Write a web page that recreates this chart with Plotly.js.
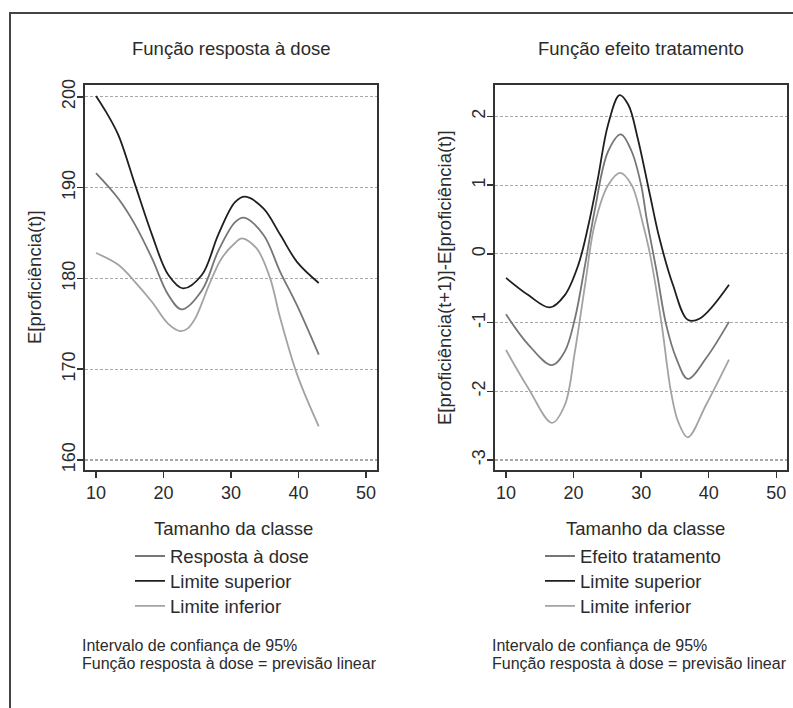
<!DOCTYPE html>
<html>
<head>
<meta charset="utf-8">
<script src="https://cdn.plot.ly/plotly-3.0.1.min.js"></script>
<style>
  html, body { margin: 0; padding: 0; background: #fff; }
  #wrap { position: relative; width: 793px; height: 708px; overflow: hidden; }
  #chart { position: absolute; left: 0; top: 0; width: 793px; height: 708px; }
  #frame { position: absolute; left: 9px; top: 12px; width: 800px; height: 710px;
           border-left: 2px solid #444; border-top: 2px solid #444; pointer-events: none; }
</style>
</head>
<body>
<div id="wrap">
  <div id="chart"></div>
  <div id="frame"></div>
</div>
<script>
// Dose-response function, class size 10..43
const doseMidX = [10, 13.3, 15.8, 18.3, 20.7, 22.7, 25.7, 28.1, 30.6, 31.9, 34.8, 37.3, 39.8, 43];
const doseMidY = [191.6, 188.8, 185.9, 182.2, 178.2, 176.6, 178.7, 183.0, 186.2, 186.7, 184.8, 180.7, 177.0, 171.6];
const doseUpX = [10, 11.6, 13.3, 15.8, 18.3, 20.7, 22.9, 25.7, 28.1, 30.6, 32.1, 34.8, 37.3, 39.8, 43];
const doseUpY = [200.1, 198.2, 195.8, 190.3, 184.8, 180.4, 178.9, 180.4, 184.8, 188.4, 189.0, 187.7, 184.8, 181.8, 179.5];
const doseLoX = [10, 13.3, 15.8, 18.3, 20.7, 22.5, 23.6, 24.7, 25.7, 26.7, 28.6, 30.6, 31.6, 33.8, 35.8, 37.3, 39.8, 43];
const doseLoY = [182.8, 181.5, 179.6, 177.4, 175.0, 174.2, 174.5, 175.6, 177.3, 179.2, 182.2, 183.9, 184.4, 183.3, 180.0, 175.6, 169.4, 163.7];

// Treatment-effect function
const effMidX = [10, 13.3, 16.8, 18.7, 20.2, 21.7, 23.1, 25.1, 27.0, 28.6, 30.0, 30.8, 32.3, 33.7, 35.2, 36.9, 39.6, 43];
const effMidY = [-0.88, -1.32, -1.62, -1.42, -0.94, -0.16, 0.62, 1.49, 1.74, 1.49, 1.0, 0.52, -0.26, -1.03, -1.52, -1.82, -1.52, -0.99];
const effUpX = [10, 13.3, 16.5, 18.7, 20.7, 22.2, 23.6, 25.1, 26.8, 28.1, 29.5, 31.3, 32.7, 34.7, 36.9, 38.7, 43];
const effUpY = [-0.35, -0.60, -0.78, -0.60, -0.16, 0.42, 1.10, 1.88, 2.31, 2.17, 1.68, 0.86, 0.23, -0.45, -0.96, -0.94, -0.45];
const effLoX = [10, 13.3, 16.8, 18.7, 20.2, 21.7, 23.1, 25.1, 26.9, 28.6, 30.3, 31.3, 33.0, 34.4, 35.5, 36.9, 39.6, 43];
const effLoY = [-1.40, -1.955, -2.46, -2.20, -1.42, -0.45, 0.42, 1.0, 1.18, 1.0, 0.42, 0.0, -1.0, -2.0, -2.45, -2.67, -2.20, -1.54];

// Axis ticks
const xTicks = [10, 20, 30, 40, 50];
const doseTicks = [160, 170, 180, 190, 200];
const effTicks = [-3, -2, -1, 0, 1, 2];
const effTickText = ['-3', '-2', '-1', '0', '1', '2'];

// Texts
const titles = ['Função resposta à dose', 'Função efeito tratamento'];
const xTitle = 'Tamanho da classe';
const yTitles = ['E[proficiência(t)]', 'E[proficiência(t+1)]-E[proficiência(t)]'];
const doseNames = ['Resposta à dose', 'Limite superior', 'Limite inferior'];
const effNames = ['Efeito tratamento', 'Limite superior', 'Limite inferior'];
const notes = ['Intervalo de confiança de 95%', 'Função resposta à dose = previsão linear'];

const W = 793, H = 708;
const px = v => v / W;
const py = v => 1 - v / H;

const FONT = 'Liberation Sans, Arial, Helvetica, sans-serif';
const TXT = '#2b2b2b';
const cMid = '#767676', cUp = '#1f1f1f', cLo = '#a3a3a3';

// legend rows are spaced by the (smaller) legend font; the label itself is drawn larger
const legendLabel = s => '<span style="font-size:18.5px">' + s + '</span>';

function line(x, y, name, color, xa, ya, leg) {
  return { x: x, y: y, name: legendLabel(name), type: 'scatter', mode: 'lines',
           line: { color: color, width: 1.8, shape: 'spline', smoothing: 1 },
           xaxis: xa, yaxis: ya, legend: leg, hoverinfo: 'skip' };
}

const data = [
  line(doseMidX, doseMidY, doseNames[0], cMid, 'x', 'y', 'legend'),
  line(doseUpX, doseUpY, doseNames[1], cUp, 'x', 'y', 'legend'),
  line(doseLoX, doseLoY, doseNames[2], cLo, 'x', 'y', 'legend'),
  line(effMidX, effMidY, effNames[0], cMid, 'x2', 'y2', 'legend2'),
  line(effUpX, effUpY, effNames[1], cUp, 'x2', 'y2', 'legend2'),
  line(effLoX, effLoY, effNames[2], cLo, 'x2', 'y2', 'legend2')
];

const tickFont = { family: FONT, size: 18, color: TXT };
function xAxis(dom, anchor) {
  return { domain: dom, anchor: anchor, range: [8.37, 51.63], tickvals: xTicks,
           ticks: 'outside', ticklen: 6, tickwidth: 1.5, tickcolor: '#333',
           showline: true, linecolor: '#333', linewidth: 1.6, mirror: true,
           showgrid: false, zeroline: false, tickfont: tickFont, fixedrange: true };
}
function yAxis(range, vals, text, anchor) {
  return { domain: [py(470), py(85)], anchor: anchor, range: range, tickvals: vals, ticktext: text,
           tickangle: -90, ticks: 'outside', ticklen: 6, tickwidth: 1.5, tickcolor: '#333',
           ticklabelstandoff: -5,
           showline: true, linecolor: '#333', linewidth: 1.6, mirror: true,
           showgrid: true, gridcolor: '#a8a8a8', gridwidth: 1.2, griddash: '3px,2px',
           zeroline: false, tickfont: tickFont, fixedrange: true };
}

function ann(text, x, y, size, opts) {
  return Object.assign({ text: text, x: px(x), y: py(y), xref: 'paper', yref: 'paper',
           showarrow: false, xanchor: 'center', yanchor: 'middle',
           font: { family: FONT, size: size, color: TXT } }, opts || {});
}

const legendBase = { orientation: 'v', xanchor: 'left', yanchor: 'top',
  font: { family: FONT, size: 16.9, color: TXT }, bgcolor: 'rgba(0,0,0,0)',
  borderwidth: 0, tracegroupgap: 0, itemclick: false, itemdoubleclick: false };

const layout = {
  width: W, height: H,
  margin: { l: 0, r: 0, t: 0, b: 0, pad: 0 },
  paper_bgcolor: '#ffffff', plot_bgcolor: '#ffffff',
  showlegend: true,
  xaxis: xAxis([px(85), px(377)], 'y'),
  yaxis: yAxis([158.9, 201.3], doseTicks, doseTicks.map(String), 'x'),
  xaxis2: xAxis([px(495), px(787.3)], 'y2'),
  yaxis2: yAxis([-3.146, 2.458], effTicks, effTickText, 'x2'),
  legend: Object.assign({ x: px(130), y: py(538.5) }, legendBase),
  legend2: Object.assign({ x: px(540), y: py(538.5) }, legendBase),
  annotations: [
    ann(titles[0], 231, 48, 18.5),
    ann(titles[1], 641, 48, 18.5),
    ann(xTitle, 233, 528, 18.5),
    ann(xTitle, 645, 528, 18.5),
    ann(yTitles[0], 35, 277, 18.5, { textangle: -90 }),
    ann(yTitles[1], 445, 277, 18.5, { textangle: -90 }),
    ann(notes[0], 80, 645, 16, { xanchor: 'left' }),
    ann(notes[1], 80, 663, 16, { xanchor: 'left' }),
    ann(notes[0], 489.7, 645, 16, { xanchor: 'left' }),
    ann(notes[1], 489.7, 663, 16, { xanchor: 'left' })
  ]
};

Plotly.newPlot('chart', data, layout, { staticPlot: true, displayModeBar: false });
</script>
</body>
</html>
